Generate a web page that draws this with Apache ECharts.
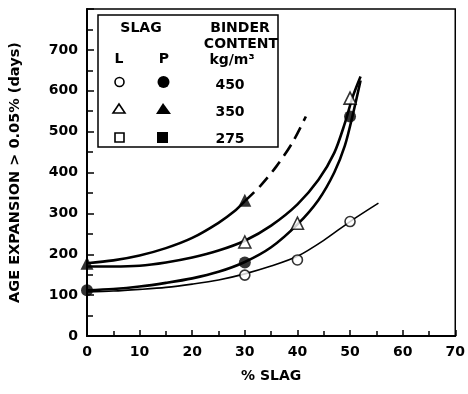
<!DOCTYPE html>
<html><head><meta charset="utf-8">
<script src="https://cdn.jsdelivr.net/npm/echarts@6/dist/echarts.min.js"></script>
<style>html,body{margin:0;padding:0;background:#fff}#c{width:468px;height:394px}</style>
</head><body><div id="c"></div>
<script>
// ---- data ----
var xTicks = [0, 10, 20, 30, 40, 50, 60, 70];
var yTicks = [0, 100, 200, 300, 400, 500, 600, 700];

// measured points (x = % slag, y = days)
var pts_P450 = [[0, 112], [30, 180], [50, 537]];          // filled circle
var pts_P350 = [[0, 178], [30, 332]];                     // filled triangle
var pts_L450 = [[30, 149], [40, 186], [50, 280]];         // open circle
var pts_L350 = [[30, 230], [40, 276], [50, 582]];         // open triangle

// fitted curves
var curve_P350_solid = [[0, 178], [5, 185], [10, 197], [15, 215], [20, 240], [25, 277], [28, 305], [30, 330]];
var curve_P350_dash  = [[30, 330], [33, 368], [36, 415], [39, 472], [41.6, 537]];
var curve_L350 = [[0, 170], [5, 170], [10, 172], [15, 180], [20, 192], [25, 209], [30, 233], [35, 270], [40, 322], [44, 382], [47, 448], [49, 520], [50.5, 585], [52, 635]];
var curve_P450 = [[0, 112], [5, 115], [10, 121], [15, 130], [20, 141], [25, 157], [30, 181], [35, 217], [40, 273], [44, 333], [47, 400], [49, 465], [50.5, 540], [52, 625]];
var curve_L450 = [[0, 108], [5, 110], [10, 114], [15, 119], [20, 127], [25, 137], [30, 152], [35, 171], [40, 195], [45, 234], [50, 280], [55.4, 325]];

var legendRows = ['450', '350', '275'];

var FONT = 'DejaVu Sans';
var chart = echarts.init(document.getElementById('c'), null, {renderer: 'canvas'});

function lineSeries(data, w, dashed) {
  return {type: 'line', data: data, smooth: 0.3, showSymbol: false, symbol: 'none',
    lineStyle: {color: '#000', width: w, type: dashed ? [13, 7] : 'solid'}, silent: true, z: 2};
}
function scatter(data, symbol, size, filled) {
  return {type: 'scatter', data: data, symbol: symbol, symbolSize: size, z: 5,
    itemStyle: filled ? {color: '#000'} : {color: '#fff', borderColor: '#000', borderWidth: 1.6}};
}

var txt = function (x, y, s, align) {
  return {type: 'text', x: x, y: y, z: 11, style: {text: s, font: 'bold 14px "' + FONT + '"', fill: '#000', align: align || 'center', verticalAlign: 'middle'}};
};

var graphics = [
  {type: 'rect', shape: {x: 98, y: 15, width: 180, height: 132}, style: {fill: '#fff', stroke: '#000', lineWidth: 1.5}, z: 10},
  txt(141, 28, 'SLAG'), txt(240, 28, 'BINDER'), txt(241, 44, 'CONTENT'), txt(232, 60, 'kg/m³'),
  txt(119, 59, 'L'), txt(164, 59, 'P'),
  txt(230, 85, legendRows[0]), txt(230, 112, legendRows[1]), txt(230, 139, legendRows[2]),
  {type: 'circle', shape: {cx: 119.5, cy: 82, r: 4.5}, style: {fill: '#fff', stroke: '#000', lineWidth: 1.6}, z: 11},
  {type: 'circle', shape: {cx: 163.5, cy: 82, r: 6}, style: {fill: '#000'}, z: 11},
  {type: 'polygon', shape: {points: [[119, 104], [113, 113], [125, 113]]}, style: {fill: '#fff', stroke: '#000', lineWidth: 1.6}, z: 11},
  {type: 'polygon', shape: {points: [[163, 103], [156, 114], [171, 114]]}, style: {fill: '#000'}, z: 11},
  {type: 'rect', shape: {x: 115, y: 133, width: 9, height: 9}, style: {fill: '#fff', stroke: '#000', lineWidth: 1.6}, z: 11},
  {type: 'rect', shape: {x: 157, y: 132, width: 11, height: 11}, style: {fill: '#000'}, z: 11}
];

chart.setOption({
  animation: false,
  backgroundColor: '#fff',
  grid: {left: 86, right: 12, top: 9, bottom: 58, show: true, borderColor: '#000', borderWidth: 1.5, backgroundColor: 'transparent'},
  xAxis: {
    type: 'value', min: xTicks[0], max: xTicks[xTicks.length - 1], interval: 10,
    name: '% SLAG', nameLocation: 'middle', nameGap: 33,
    nameTextStyle: {fontFamily: FONT, fontWeight: 'bold', fontSize: 14, color: '#000'},
    axisLine: {lineStyle: {color: '#000', width: 2}},
    axisTick: {inside: true, length: 6, lineStyle: {color: '#000', width: 1.5}},
    minorTick: {show: true, splitNumber: 2, length: 5, lineStyle: {color: '#000', width: 1.5}},
    axisLabel: {margin: 9, fontFamily: FONT, fontWeight: 'bold', fontSize: 14, color: '#000'},
    splitLine: {show: false}
  },
  yAxis: {
    type: 'value', min: 0, max: 800, interval: 100,
    name: 'AGE EXPANSION > 0.05% (days)', nameLocation: 'middle', nameGap: 64, nameRotate: 90,
    nameTextStyle: {fontFamily: FONT, fontWeight: 'bold', fontSize: 14.5, color: '#000'},
    axisLine: {lineStyle: {color: '#000', width: 2}},
    axisTick: {inside: true, length: 7, lineStyle: {color: '#000', width: 1.5}},
    minorTick: {show: true, splitNumber: 2, length: 6, lineStyle: {color: '#000', width: 1.5}},
    axisLabel: {margin: 9, fontFamily: FONT, fontWeight: 'bold', fontSize: 14, color: '#000',
      formatter: function (v) { return yTicks.indexOf(v) >= 0 ? String(v) : ''; }},
    splitLine: {show: false}
  },
  graphic: graphics,
  series: [
    lineSeries(curve_P350_solid, 2.6, false),
    lineSeries(curve_P350_dash, 2.6, true),
    lineSeries(curve_L350, 2.6, false),
    lineSeries(curve_P450, 2.6, false),
    lineSeries(curve_L450, 1.6, false),
    scatter(pts_P450, 'circle', 12, true),
    scatter(pts_P350, 'triangle', 13, true),
    scatter(pts_L450, 'circle', 10, false),
    scatter(pts_L350, 'triangle', 12, false)
  ]
});
</script></body></html>
